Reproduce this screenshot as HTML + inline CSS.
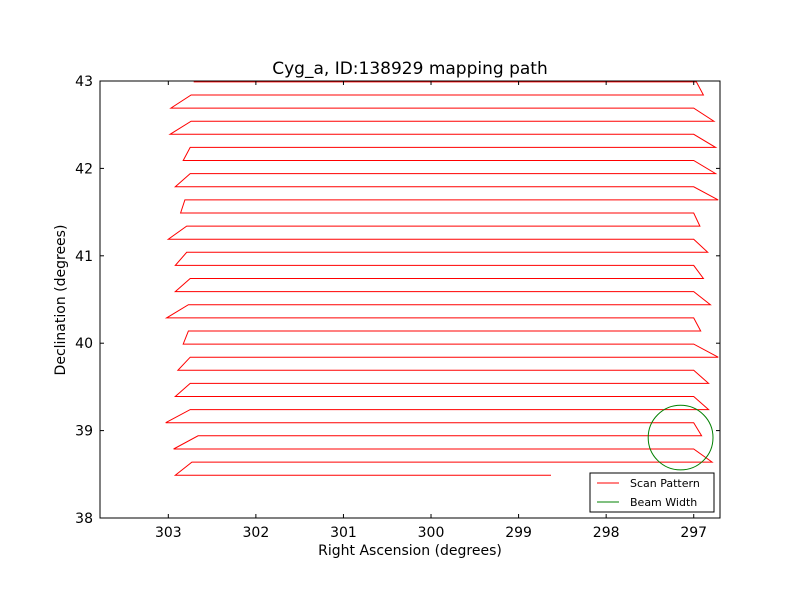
<!DOCTYPE html>
<html><head><meta charset="utf-8"><style>
body{margin:0;background:#fff;}
svg text{font-family:"DejaVu Sans","Liberation Sans",sans-serif;}
</style></head><body>
<svg id="chart" width="800" height="600" viewBox="0 0 800 600">
<rect width="800" height="600" fill="#fff"/>
<text x="410" y="74" font-size="17" text-anchor="middle">Cyg_a, ID:138929 mapping path</text>
<g id="plot"></g>
<rect x="100" y="81" width="620" height="437" fill="none" stroke="#000" stroke-width="1"/>
<g id="ticks"></g>
<text x="410" y="555" font-size="14" text-anchor="middle">Right Ascension (degrees)</text>
<text transform="translate(65,300) rotate(-90)" font-size="14" text-anchor="middle">Declination (degrees)</text>
<g>
<rect x="590" y="473" width="124" height="39" fill="#fff" stroke="#000" stroke-width="1"/>
<g><line x1="597" y1="483" x2="619" y2="483" stroke="red"/><text x="630" y="487" font-size="11">Scan Pattern</text></g>
<g><line x1="597" y1="502" x2="619" y2="502" stroke="green"/><text x="630" y="506" font-size="11">Beam Width</text></g>
</g>
</svg>
<script>
const rowDec = [42.99,42.84,42.69,42.54,42.39,42.24,42.09,41.94,41.79,41.64,41.49,41.34,41.19,41.04,40.89,40.74,40.59,40.44,40.29,40.14,39.99,39.84,39.69,39.54,39.39,39.24,39.09,38.94,38.79,38.64,38.49];
const rowLeftRA = [302.71,302.74,302.97,302.74,302.98,302.75,302.83,302.75,302.92,302.81,302.86,302.79,303.00,302.79,302.92,302.75,302.92,302.77,303.02,302.77,302.83,302.75,302.89,302.75,302.92,302.75,303.03,302.66,302.94,302.73,302.92];
const rowRightRA = [296.97,296.89,297.00,296.77,297.00,296.75,297.00,296.75,297.00,296.72,297.00,296.93,297.00,296.84,297.00,296.89,297.00,296.81,297.00,296.92,297.00,296.72,297.00,296.83,297.00,296.83,297.00,296.91,297.00,296.79,298.63];
const beamRA = 297.15, beamDec = 38.92, beamRadius = 0.37;
const xTicks = [303,302,301,300,299,298,297];
const yTicks = [38,39,40,41,42,43];

const ns="http://www.w3.org/2000/svg";
const X0=100,X1=720,Y0=81,Y1=518;
const raMin=296.70, raMax=303.78, decMin=38, decMax=43;
function xs(ra){return X0+(raMax-ra)/(raMax-raMin)*(X1-X0);}
function ys(d){return Y1-(d-decMin)/(decMax-decMin)*(Y1-Y0);}
const plot=document.getElementById('plot');
let pts=[];
for(let i=0;i<rowDec.length;i++){
  const l=[xs(rowLeftRA[i]),ys(rowDec[i])], r=[xs(rowRightRA[i]),ys(rowDec[i])];
  if(i%2===0){pts.push(l,r);}else{pts.push(r,l);}
}
const pl=document.createElementNS(ns,'polyline');
pl.setAttribute('points',pts.map(p=>p[0].toFixed(1)+','+p[1].toFixed(1)).join(' '));
pl.setAttribute('fill','none');pl.setAttribute('stroke','red');pl.setAttribute('stroke-width','1');


plot.appendChild(pl);
const el=document.createElementNS(ns,'ellipse');
el.setAttribute('cx',xs(beamRA));el.setAttribute('cy',ys(beamDec));
el.setAttribute('rx',Math.abs(xs(beamRA+beamRadius)-xs(beamRA)));
el.setAttribute('ry',Math.abs(ys(beamDec+beamRadius)-ys(beamDec)));
el.setAttribute('fill','none');el.setAttribute('stroke','green');


plot.appendChild(el);
const tg=document.getElementById('ticks');
function line(x1,y1,x2,y2){const l=document.createElementNS(ns,'line');l.setAttribute('x1',x1);l.setAttribute('y1',y1);l.setAttribute('x2',x2);l.setAttribute('y2',y2);l.setAttribute('stroke','#000');tg.appendChild(l);return l;}
function txt(x,y,s,anc){const t=document.createElementNS(ns,'text');t.setAttribute('x',x);t.setAttribute('y',y);t.setAttribute('font-size','14');t.setAttribute('text-anchor',anc);t.textContent=s;tg.appendChild(t);return t;}
xTicks.forEach(v=>{const x=xs(v);line(x,Y1,x,Y1-4);line(x,Y0,x,Y0+4);
 const t=txt(x,537,String(v),'middle');
 
 });
yTicks.forEach(v=>{const y=ys(v);line(X0,y,X0+4,y);line(X1,y,X1-4,y);
 const t=txt(93,y+5,String(v),'end');
 
 });
</script>
</body></html>
